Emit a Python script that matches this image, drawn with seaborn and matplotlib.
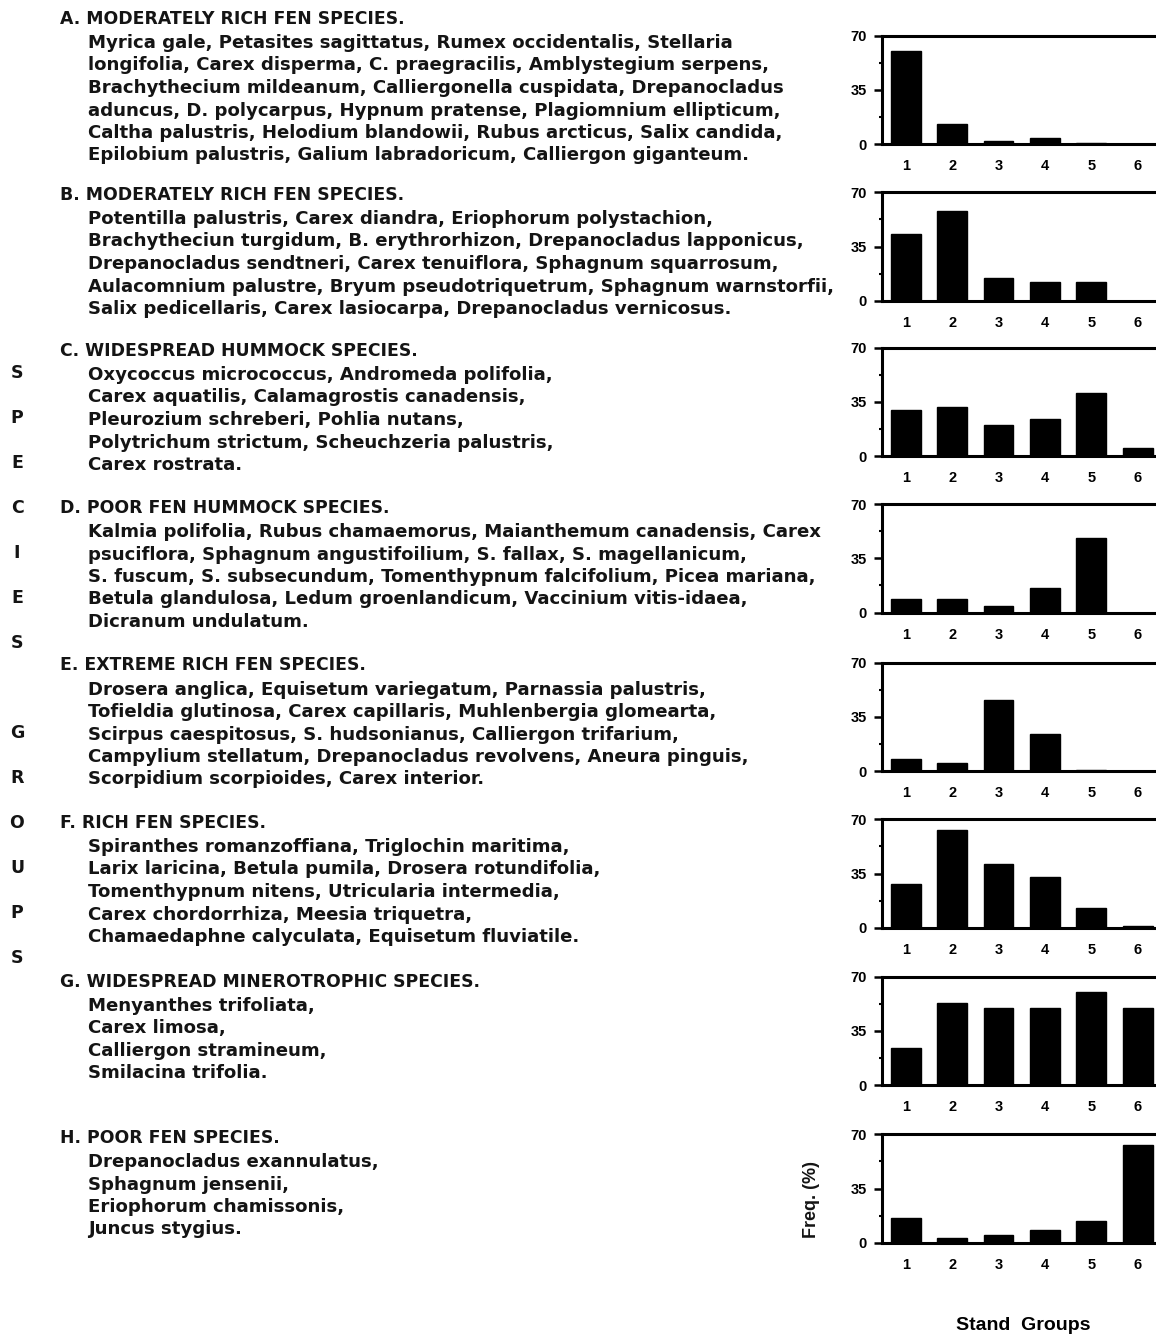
import matplotlib
matplotlib.use("Agg")
import matplotlib.pyplot as plt
import seaborn as sns
import pandas as pd

# ---------------- data ----------------
stand_groups = ["1", "2", "3", "4", "5", "6"]
freq_A = [60, 13, 2, 4, 1, 0]
freq_B = [43, 58, 15, 12, 12, 0]
freq_C = [30, 32, 20, 24, 41, 5]
freq_D = [8.5, 8.5, 4, 16, 48, 0]
freq_E = [8, 5, 46, 24, 0.5, 0]
freq_F = [28, 63, 41, 33, 13, 1]
freq_G = [24, 53, 50, 50, 60, 50]
freq_H = [16, 3, 5, 8.5, 14, 63]
y_ticks = [0, 35, 70]
y_tick_labels = ["0", "35", "70"]

titles = [
    "A. MODERATELY RICH FEN SPECIES.",
    "B. MODERATELY RICH FEN SPECIES.",
    "C. WIDESPREAD HUMMOCK SPECIES.",
    "D. POOR FEN HUMMOCK SPECIES.",
    "E. EXTREME RICH FEN SPECIES.",
    "F. RICH FEN SPECIES.",
    "G. WIDESPREAD MINEROTROPHIC SPECIES.",
    "H. POOR FEN SPECIES.",
]
species_A = [
    "Myrica gale, Petasites sagittatus, Rumex occidentalis, Stellaria",
    "longifolia, Carex disperma, C. praegracilis, Amblystegium serpens,",
    "Brachythecium mildeanum, Calliergonella cuspidata, Drepanocladus",
    "aduncus, D. polycarpus, Hypnum pratense, Plagiomnium ellipticum,",
    "Caltha palustris, Helodium blandowii, Rubus arcticus, Salix candida,",
    "Epilobium palustris, Galium labradoricum, Calliergon giganteum.",
]
species_B = [
    "Potentilla palustris, Carex diandra, Eriophorum polystachion,",
    "Brachytheciun turgidum, B. erythrorhizon, Drepanocladus lapponicus,",
    "Drepanocladus sendtneri, Carex tenuiflora, Sphagnum squarrosum,",
    "Aulacomnium palustre, Bryum pseudotriquetrum, Sphagnum warnstorfii,",
    "Salix pedicellaris, Carex lasiocarpa, Drepanocladus vernicosus.",
]
species_C = [
    "Oxycoccus micrococcus, Andromeda polifolia,",
    "Carex aquatilis, Calamagrostis canadensis,",
    "Pleurozium schreberi, Pohlia nutans,",
    "Polytrichum strictum, Scheuchzeria palustris,",
    "Carex rostrata.",
]
species_D = [
    "Kalmia polifolia, Rubus chamaemorus, Maianthemum canadensis, Carex",
    "psuciflora, Sphagnum angustifoilium, S. fallax, S. magellanicum,",
    "S. fuscum, S. subsecundum, Tomenthypnum falcifolium, Picea mariana,",
    "Betula glandulosa, Ledum groenlandicum, Vaccinium vitis-idaea,",
    "Dicranum undulatum.",
]
species_E = [
    "Drosera anglica, Equisetum variegatum, Parnassia palustris,",
    "Tofieldia glutinosa, Carex capillaris, Muhlenbergia glomearta,",
    "Scirpus caespitosus, S. hudsonianus, Calliergon trifarium,",
    "Campylium stellatum, Drepanocladus revolvens, Aneura pinguis,",
    "Scorpidium scorpioides, Carex interior.",
]
species_F = [
    "Spiranthes romanzoffiana, Triglochin maritima,",
    "Larix laricina, Betula pumila, Drosera rotundifolia,",
    "Tomenthypnum nitens, Utricularia intermedia,",
    "Carex chordorrhiza, Meesia triquetra,",
    "Chamaedaphne calyculata, Equisetum fluviatile.",
]
species_G = [
    "Menyanthes trifoliata,",
    "Carex limosa,",
    "Calliergon stramineum,",
    "Smilacina trifolia.",
]
species_H = [
    "Drepanocladus exannulatus,",
    "Sphagnum jensenii,",
    "Eriophorum chamissonis,",
    "Juncus stygius.",
]
side_letters = ["S", "P", "E", "C", "I", "E", "S", "G", "R", "O", "U", "P", "S"]

freqs = [freq_A, freq_B, freq_C, freq_D, freq_E, freq_F, freq_G, freq_H]
species = [species_A, species_B, species_C, species_D, species_E, species_F,
           species_G, species_H]

# ---------------- layout (pixels) ----------------
W, H = 1156, 1336
panel_tops = [35.7, 192.3, 347.7, 504.0, 662.7, 819.3, 976.7, 1134.3]
panel_h = 108.5
ax_left, ax_right = 882, 1175
px_per_cat = 46.4
first_center = 905.7
title_y = [19, 195, 351, 508, 665.5, 823, 982, 1138]
line_gap = 22.5
letter_y = [373, 418, 463, 508, 553, 598, 643, 733, 778, 823, 868, 913, 958]

sns.set_theme(style="white")
plt.rcParams["font.family"] = ["DejaVu Sans"]

fig = plt.figure(figsize=(W / 100, H / 100), dpi=100)
fig.patch.set_facecolor("white")


def fx(x):
    return x / W


def fy(y):
    return 1 - y / H


text_kw = dict(color="#141414", fontweight="bold", va="center", ha="left")

for i, vals in enumerate(freqs):
    top = panel_tops[i]
    ax = fig.add_axes([fx(ax_left), fy(top + panel_h),
                       (ax_right - ax_left) / W, panel_h / H])
    df = pd.DataFrame({"group": stand_groups, "freq": vals})
    sns.barplot(data=df, x="group", y="freq", color="black", width=0.645,
                saturation=1, edgecolor="black", linewidth=1, ax=ax)
    x0 = -(first_center - ax_left) / px_per_cat
    ax.set_xlim(x0, x0 + (ax_right - ax_left) / px_per_cat)
    ax.set_ylim(0, 70)
    ax.set_yticks(y_ticks)
    ax.set_yticklabels(y_tick_labels, fontweight="bold",
                       fontfamily="Liberation Sans")
    ax.set_yticks([17.5, 52.5], minor=True)
    ax.set_xticks(range(len(stand_groups)))
    ax.set_xticklabels(stand_groups, fontweight="bold",
                       fontfamily="Liberation Sans")
    ax.set_xlabel("")
    ax.set_ylabel("")
    ax.set_facecolor("none")
    for side in ["top", "left", "bottom"]:
        ax.spines[side].set_visible(True)
        ax.spines[side].set_color("black")
        ax.spines[side].set_linewidth(2.2)
    ax.spines["right"].set_visible(False)
    ax.tick_params(axis="y", which="major", direction="out", length=6,
                   width=1.8, pad=5, labelsize=10.5, left=True, colors="black")
    ax.tick_params(axis="y", which="minor", direction="out", length=2,
                   width=1.5, left=True, colors="black")
    ax.tick_params(axis="x", length=0, pad=11, labelsize=10.5, colors="black")
    ax.grid(False)

    # text block
    fig.text(fx(60), fy(title_y[i]), titles[i], fontsize=12.4, **text_kw)
    for j, line in enumerate(species[i]):
        fig.text(fx(88), fy(title_y[i] + (j + 1) * line_gap + 1.5), line,
                 fontsize=13.1, **text_kw)

for ch, yy in zip(side_letters, letter_y):
    fig.text(fx(17), fy(yy), ch, fontsize=12.5, color="#141414",
             fontweight="bold", ha="center", va="center")

fig.text(fx(812), fy(1200), "Freq. (%)", rotation=90, fontsize=13,
         fontweight="bold", fontfamily="Liberation Sans", ha="center",
         va="center", color="#141414")
fig.text(fx(1023), fy(1325), "Stand  Groups", fontsize=14,
         fontweight="bold", fontfamily="Liberation Sans", ha="center",
         va="center", color="black")

fig.savefig("out.png", dpi=100, facecolor="white")
